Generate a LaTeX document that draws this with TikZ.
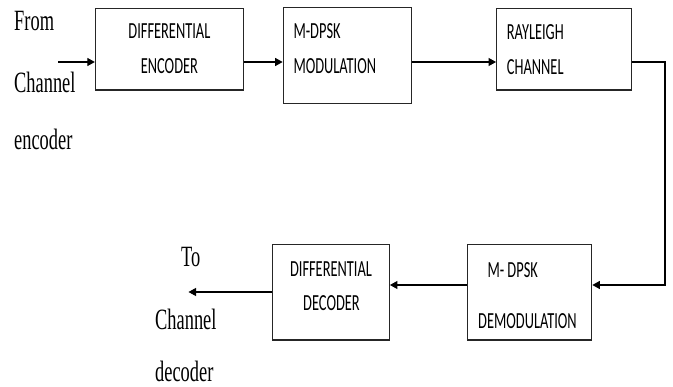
\documentclass[tikz,border=0pt]{standalone}
\usepackage{fontspec}
\setmainfont{Liberation Serif}
\newfontfamily\carlito{Carlito}
\usetikzlibrary{arrows.meta}
\newcommand{\bt}[1]{\scalebox{1}[1.6]{#1}}
\begin{document}
\begin{tikzpicture}[x=1pt,y=-1pt,
  blk/.style={draw=black!85,line width=1.3pt,rectangle,inner sep=0pt},
  btxt/.style={inner sep=0pt,font=\carlito\fontsize{14.4}{16}\selectfont},
  stxt/.style={inner sep=0pt,anchor=base west,font=\fontsize{18.4}{20}\selectfont},
  arr/.style={line width=1.1pt,-{Triangle[length=7.5pt,width=8pt]}},
  ln/.style={line width=1.1pt}]
\useasboundingbox (0,0) rectangle (673,387);
% blocks
\node[blk,minimum width=147.8pt,minimum height=81.7pt] (A) at (169.4,49.2) {};
\node[blk,minimum width=128.4pt,minimum height=96pt] (B) at (347.5,55.5) {};
\node[blk,minimum width=135pt,minimum height=81.7pt] (C) at (564.2,49.2) {};
\node[blk,minimum width=124pt,minimum height=95.7pt] (D) at (529.7,292.2) {};
\node[blk,minimum width=116.6pt,minimum height=95.7pt] (E) at (331,292.2) {};
% block texts
\node[btxt,anchor=base] (a1) at (169.4,39) {\bt{DIFFERENTIAL}};
\node[btxt,anchor=base] (a2) at (169.4,74) {\bt{ENCODER}};
\node[btxt,anchor=base west] (b1) at (293.3,39) {\bt{M-DPSK}};
\node[btxt,anchor=base west] (b2) at (293.3,74) {\bt{MODULATION}};
\node[btxt,anchor=base west] (c1) at (506.7,39.3) {\bt{RAYLEIGH}};
\node[btxt,anchor=base west] (c2) at (506.7,75) {\bt{CHANNEL}};
\node[btxt,anchor=base west] (d1) at (487.3,277.7) {\bt{M- DPSK}};
\node[btxt,anchor=base] (d2) at (527.5,328.3) {\bt{DEMODULATION}};
\node[btxt,anchor=base] (e1) at (331,276.7) {\bt{DIFFERENTIAL}};
\node[btxt,anchor=base] (e2) at (331.5,311) {\bt{DECODER}};
% side texts
\node[stxt] (f1) at (14,30.7) {\bt{From}};
\node[stxt] (f2) at (14,93) {\bt{Channel}};
\node[stxt] (f3) at (14,150) {\bt{encoder}};
\node[stxt] (t1) at (181,267) {\bt{To}};
\node[stxt] (t2) at (155,330) {\bt{Channel}};
\node[stxt] (t3) at (155,382) {\bt{decoder}};
% connectors
\coordinate (in) at (58,62);
\coordinate (r1) at (0,62);
\coordinate (turn) at (665,62);
\coordinate (r2) at (0,285);
\coordinate (r3) at (0,292);
\coordinate (out) at (188.5,292);
\draw[arr] (in) -- (A.west |- in);
\draw[arr] (A.east |- r1) -- (B.west |- r1);
\draw[arr] (B.east |- r1) -- (C.west |- r1);
\draw[arr] (C.east |- r1) -- (turn) |- (D.east |- r2);
\draw[arr] (D.west |- r2) -- (E.east |- r2);
\draw[arr] (E.west |- r3) -- (out);
\end{tikzpicture}
\end{document}
